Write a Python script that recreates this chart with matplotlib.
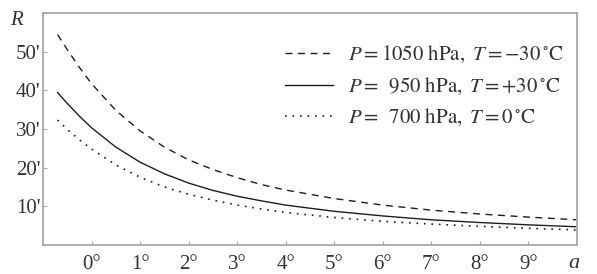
import matplotlib

matplotlib.use("Agg")
import matplotlib.pyplot as plt

INK = "#1E1E1E"
TXT = "#333333"
HAIR = "#A8A8A8"

plt.rcParams["font.family"] = ["Liberation Serif", "DejaVu Serif"]
plt.rcParams["mathtext.fontset"] = "stix"

# elevation a (degrees) and refraction R (arcmin)
a_deg = [-0.7, -0.5, -0.25, 0, 0.5, 1, 1.5, 2, 2.5, 3, 3.5, 4, 5, 6, 7, 8, 9, 10]
r_1050 = [54.4, 50.5, 45.9, 41.7, 34.8, 29.5, 25.3, 22.0, 19.5, 17.4, 15.6, 14.2,
          12.0, 10.3, 9.0, 8.0, 7.2, 6.5]
r_950 = [39.4, 36.6, 33.3, 30.3, 25.3, 21.4, 18.4, 16.0, 14.1, 12.6, 11.4, 10.3,
         8.7, 7.5, 6.5, 5.8, 5.2, 4.7]
r_700 = [32.3, 29.9, 27.2, 24.8, 20.7, 17.5, 15.0, 13.1, 11.6, 10.3, 9.3, 8.4,
         7.1, 6.1, 5.4, 4.8, 4.3, 3.9]

labels = [
    r"$P = 1050\ \mathrm{hPa},\ T = -30\,^{\circ}\mathrm{C}$",
    r"$P = \enspace 950\ \mathrm{hPa},\ T = +30\,^{\circ}\mathrm{C}$",
    r"$P = \enspace 700\ \mathrm{hPa},\ T = 0\,^{\circ}\mathrm{C}$",
]
x_ticks = [0, 1, 2, 3, 4, 5, 6, 7, 8, 9]
y_ticks = [10, 20, 30, 40, 50]

fig = plt.figure(figsize=(5.97, 2.74), dpi=100)
ax = fig.add_axes([0.072, 0.106, 0.8945, 0.847])

ax.plot(a_deg, r_1050, color=INK, lw=1.0, ls=(0, (5, 4)), label=labels[0])
ax.plot(a_deg, r_950, color=INK, lw=1.0, ls="-", label=labels[1])
ax.plot(a_deg, r_700, color=INK, lw=1.2, ls=(0, (1, 3.5)), label=labels[2])

ax.set_xlim(-1, 10)
ax.set_ylim(0, 60)
ax.set_xticks(x_ticks)
ax.set_xticklabels([f"{t}°" for t in x_ticks])
ax.set_yticks(y_ticks)
ax.set_yticklabels([f"{t}'" for t in y_ticks])
ax.tick_params(direction="in", length=3, width=0.8, color=HAIR, labelcolor=TXT, labelsize=15)
ax.tick_params(axis="x", pad=7)
ax.tick_params(axis="y", pad=2)
for sp in ax.spines.values():
    sp.set_color(HAIR)
    sp.set_linewidth(1.3)

fig.text(0.028, 0.925, "R", fontsize=15, style="italic", color=TXT, ha="center", va="center")
fig.text(0.962, 0.04, "a", fontsize=16, style="italic", color=TXT, ha="center", va="center")

ax.legend(loc="upper right", bbox_to_anchor=(0.99, 0.9), frameon=False, fontsize=15,
          handlelength=2.3, handletextpad=0.7, labelspacing=0.5, borderaxespad=0,
          labelcolor=TXT)

fig.savefig("out.png", dpi=100, facecolor="white")
